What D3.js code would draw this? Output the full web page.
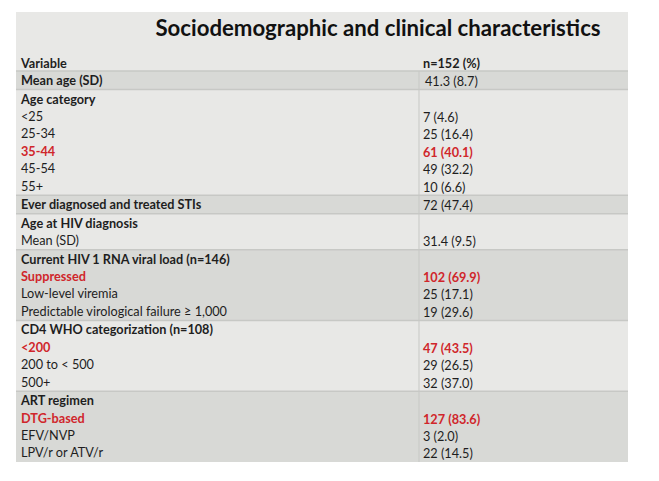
<!DOCTYPE html>
<html><head><meta charset="utf-8">
<script src="https://cdn.jsdelivr.net/npm/d3@7"></script>
<style>html,body{margin:0;padding:0;background:#fff;}svg{display:block;}</style>
</head><body>
<svg id="chart" width="659" height="481"></svg>
<script>
const title = "Sociodemographic and clinical characteristics";
const headerLabels = ["Variable", "n=152 (%)"];
const groupNames = ["Mean age (SD)", "Age category", "Ever diagnosed and treated STIs", "Age at HIV diagnosis", "Current HIV 1 RNA viral load (n=146)", "CD4 WHO categorization (n=108)", "ART regimen"];
const groupValues = ["41.3 (8.7)", "", "72 (47.4)", "", "", "", ""];
const groupShaded = [true, false, true, false, true, false, true];
const itemGroup = [1, 1, 1, 1, 1, 3, 4, 4, 4, 5, 5, 5, 6, 6, 6];
const itemLabels = ["<25", "25-34", "35-44", "45-54", "55+", "Mean (SD)", "Suppressed", "Low-level viremia", "Predictable virological failure \u2265 1,000", "<200", "200 to < 500", "500+", "DTG-based", "EFV/NVP", "LPV/r or ATV/r"];
const itemValues = ["7 (4.6)", "25 (16.4)", "61 (40.1)", "49 (32.2)", "10 (6.6)", "31.4 (9.5)", "102 (69.9)", "25 (17.1)", "19 (29.6)", "47 (43.5)", "29 (26.5)", "32 (37.0)", "127 (83.6)", "3 (2.0)", "22 (14.5)"];
const itemHighlight = [false, false, true, false, false, false, true, false, false, true, false, false, true, false, false];

const svg = d3.select("#chart");
const FONT = "Lato, 'Open Sans', sans-serif";
const light = "#e8e8e6", dark = "#d8d9d6", border = "#c7c8c5", ink = "#1e1e1e", red = "#d0262b";
const L = 16, R = 628, T = 12, B = 462, colX = 419;
const rowStep = 17.4, padTop = 9, padBot = 9.5;
const FS = 12.7;

svg.append("rect").attr("x", L).attr("y", T).attr("width", R - L).attr("height", B - T).attr("fill", light);

svg.append("text").attr("x", 378).attr("y", 27).attr("text-anchor", "middle")
  .attr("dominant-baseline", "central").attr("font-family", FONT).attr("font-weight", 700)
  .attr("font-size", 22.2).attr("fill", "#111").text(title);

const headerY = 63;
svg.append("text").attr("x", 21).attr("y", headerY).attr("dominant-baseline", "central")
  .attr("font-family", FONT).attr("font-weight", 700).attr("font-size", FS).attr("fill", ink).text(headerLabels[0]);
svg.append("text").attr("x", 423).attr("y", headerY).attr("dominant-baseline", "central")
  .attr("font-family", FONT).attr("font-weight", 700).attr("font-size", FS).attr("fill", ink).text(headerLabels[1]);

const groups = groupNames.map((name, gi) => {
  const rows = [{label: name, value: groupValues[gi], bold: true, hl: false, first: gi === 0}];
  itemLabels.forEach((lab, i) => {
    if (itemGroup[i] === gi) rows.push({label: lab, value: itemValues[i], bold: itemHighlight[i], hl: itemHighlight[i]});
  });
  return {name, shaded: groupShaded[gi], rows};
});
let y = 71;
groups.forEach(g => {
  g.top = y;
  g.rows.forEach((r, k) => r.y = y + padTop + k * rowStep);
  g.bottom = y + padTop + (g.rows.length - 1) * rowStep + padBot;
  y = g.bottom;
});
const yScale = d3.scaleLinear().domain([71, y]).range([71, B]);

const gSel = svg.selectAll("g.grp").data(groups).join("g").attr("class", "grp");
gSel.append("rect").attr("x", L).attr("width", R - L)
  .attr("y", d => yScale(d.top)).attr("height", d => yScale(d.bottom) - yScale(d.top))
  .attr("fill", d => d.shaded ? dark : light);
gSel.append("line").attr("x1", L).attr("x2", R)
  .attr("y1", d => yScale(d.top)).attr("y2", d => yScale(d.top))
  .attr("stroke", border).attr("stroke-width", 1.5);

svg.append("line").attr("x1", colX).attr("x2", colX).attr("y1", 71).attr("y2", B)
  .attr("stroke", border).attr("stroke-width", 1);

const allRows = groups.flatMap(g => g.rows);
svg.selectAll("text.lab").data(allRows).join("text").attr("class", "lab")
  .attr("x", 21).attr("y", d => yScale(d.y)).attr("dominant-baseline", "central")
  .attr("font-family", FONT).attr("font-size", FS)
  .attr("font-weight", d => d.bold ? 700 : 400)
  .attr("fill", d => d.hl ? red : ink).text(d => d.label);
svg.selectAll("text.val").data(allRows.filter(d => d.value)).join("text").attr("class", "val")
  .attr("x", d => d.first ? 425 : 423).attr("y", d => yScale(d.y) + 1).attr("dominant-baseline", "central")
  .attr("font-family", FONT).attr("font-size", FS)
  .attr("font-weight", d => d.hl ? 700 : 400)
  .attr("fill", d => d.hl ? red : ink).text(d => d.value);
</script>
</body></html>
